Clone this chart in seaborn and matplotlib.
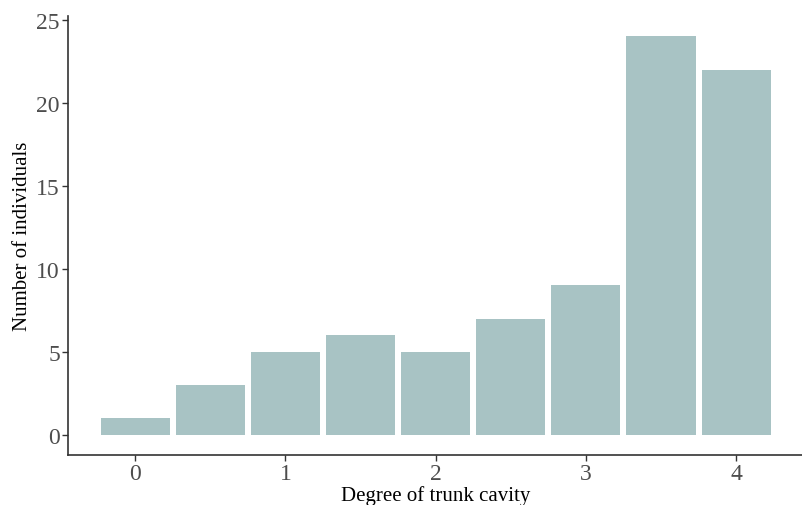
import matplotlib
matplotlib.use("Agg")
import matplotlib.pyplot as plt
import seaborn as sns
import numpy as np

degree = [0, 0.5, 1, 1.5, 2, 2.5, 3, 3.5, 4]
counts = [1, 3, 5, 6, 5, 7, 9, 24, 22]
xticks = [0, 1, 2, 3, 4]
yticks = [0, 5, 10, 15, 20, 25]

sns.set_theme(style="white")
plt.rcParams['font.family'] = ['Liberation Serif', 'DejaVu Serif']

fig = plt.figure(figsize=(8.03, 5.06), dpi=100)
ax = fig.add_axes([0.085, 0.0994, 0.915, 0.8662])

sns.histplot(x=degree, weights=counts, binwidth=0.5, binrange=(-0.25, 4.25),
             shrink=0.92, color="#a8c3c4", alpha=1, linewidth=0, ax=ax)

ax.set_xlim(-0.445, 4.445)
ax.set_ylim(-1.2, 25.2)
ax.set_xticks(xticks)
ax.set_yticks(yticks)
ax.set_xticklabels([str(t) for t in xticks])
ax.set_yticklabels([str(t) for t in yticks])
ax.tick_params(axis='both', labelsize=17, colors="#4d4d4d", length=4, width=1,
               direction='out', bottom=True, left=True, pad=2)
for lab in ax.get_xticklabels() + ax.get_yticklabels():
    lab.set_color("#4d4d4d")
ax.tick_params(axis='both', color="#333333")
for s in ["top", "right"]:
    ax.spines[s].set_visible(False)
for s in ["left", "bottom"]:
    ax.spines[s].set_color("#333333")
    ax.spines[s].set_linewidth(1.2)
ax.set_xlabel("Degree of trunk cavity", fontsize=15, color="black", labelpad=1)
ax.set_ylabel("Number of individuals", fontsize=15, color="black", labelpad=3)

fig.savefig("out.png", dpi=100)
